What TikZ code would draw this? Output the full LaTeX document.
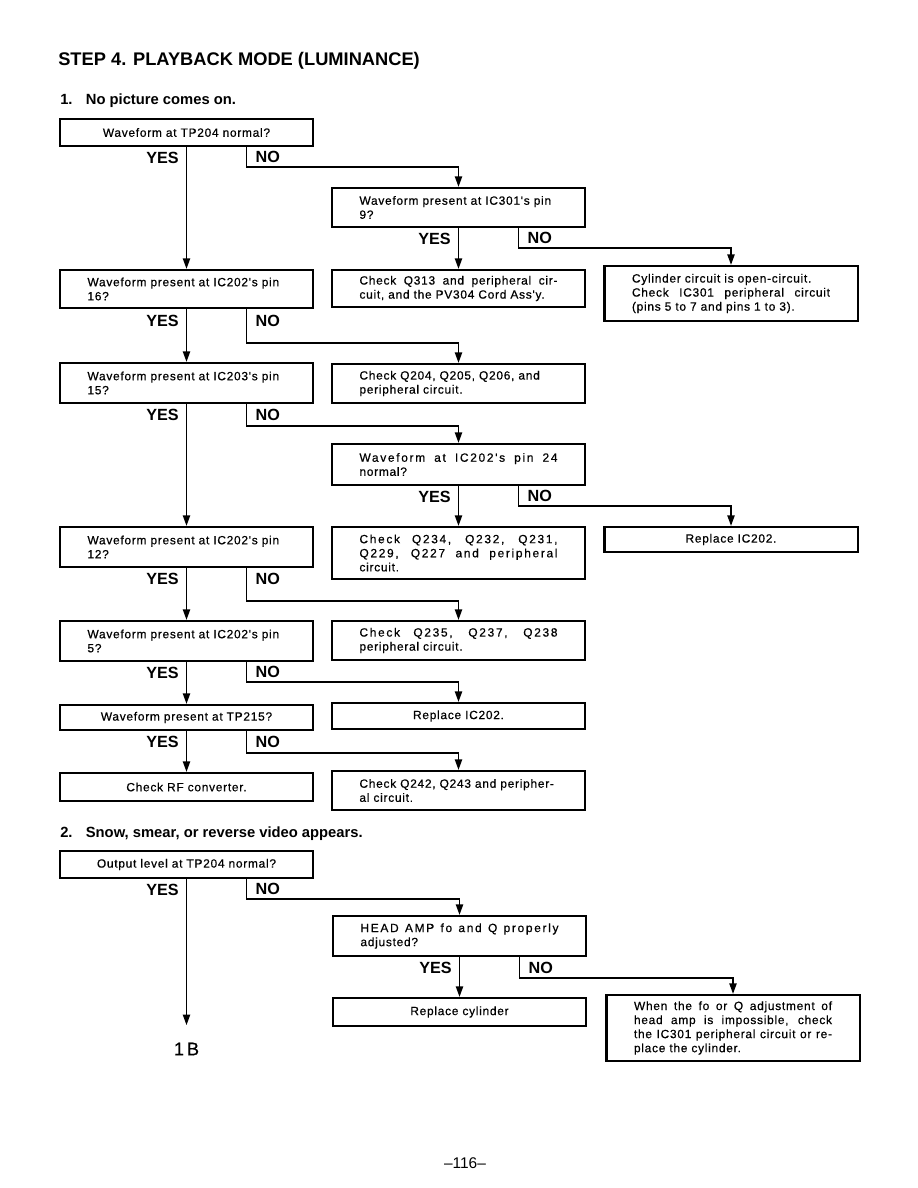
\documentclass[tikz,border=0pt]{standalone}
\usepackage{fontspec}
\setmainfont{Liberation Sans}
\newfontfamily\boxfont[LetterSpace=6,FakeBold=0.5]{Liberation Sans}
\newfontfamily\wideboxfont[LetterSpace=14,FakeBold=0.5]{Liberation Sans}
\usetikzlibrary{
    arrows.meta,
    positioning,
    calc
}
\newcommand{\spread}[1]{\makebox[\linewidth][s]{\spaceskip=0.3333em plus 1fil\relax #1}}
\newcommand{\wide}[1]{\makebox[\linewidth][s]{\wideboxfont\spaceskip=0.3333em plus 1fil\relax #1}}

\begin{document}
\begin{tikzpicture}[
    x=0.025cm, y=-0.025cm,
    every node/.style={font=\boxfont\fontsize{8.5}{10}\selectfont},
    ask/.style={rectangle, draw, line width=1.6pt, align=left,
      minimum width=6.33cm, text width=4.95cm, inner sep=0pt},
    mid/.style={ask, align=center},
    heading/.style={anchor=west, inner xsep=0pt,
      font=\rmfamily\bfseries\fontsize{10.5}{12}\selectfont},
    arrow/.style={-{Triangle[length=2.6mm,width=1.8mm]}, line width=1pt},
    yeslbl/.style={left, font=\rmfamily\bfseries\fontsize{11.5}{12}\selectfont,
      inner xsep=5pt, inner ysep=0pt},
    nolbl/.style={right, font=\rmfamily\bfseries\fontsize{11.5}{12}\selectfont,
      inner xsep=6pt, inner ysep=0pt}
]
\useasboundingbox[fill=white] (0,0) rectangle (918,1188);

\node[anchor=west, inner xsep=0pt, font=\rmfamily\bfseries\fontsize{13}{14}\selectfont] (title) at (58,61)
  {STEP 4. PLAYBACK MODE (LUMINANCE)};

% 1. No picture comes on.
\node[heading] (head1) at (60,101) {1.\hspace{0.9em}No picture comes on.};
\node[mid, minimum height=0.675cm] (tp204) at (186.5,132.5) {Waveform at TP204 normal?};
\node[ask, minimum height=0.975cm] (ic301) at (458.5,207.5) {Waveform present at IC301's pin\\9?};
\node[ask, minimum height=0.925cm] (q313) at (458.5,288.5)
  {\spread{Check Q313 and peripheral cir-}\\cuit, and the PV304 Cord Ass'y.};
\node[ask, minimum height=1.375cm] (cyl) at (731,293.5)
  {Cylinder circuit is open-circuit.\\\spread{Check IC301 peripheral circuit}\\(pins 5 to 7 and pins 1 to 3).};
\node[ask, minimum height=0.95cm] (pin16) at (186.5,289) {Waveform present at IC202's pin\\16?};
\node[ask, minimum height=1.0cm] (pin15) at (186.5,383) {Waveform present at IC203's pin\\15?};
\node[ask, minimum height=0.975cm] (q204) at (458.5,383.5) {Check Q204, Q205, Q206, and\\peripheral circuit.};
\node[ask, minimum height=1.025cm] (pin24) at (458.5,464.5) {\wide{Waveform at IC202's pin 24}\\normal?};
\node[ask, minimum height=1.3cm] (q234) at (458.5,553)
  {\wide{Check Q234, Q232, Q231,}\\\wide{Q229, Q227 and peripheral}\\circuit.};
\node[mid, minimum height=0.625cm] (ic202a) at (731,539.5) {Replace IC202.};
\node[ask, minimum height=1.0cm] (pin12) at (186.5,547) {Waveform present at IC202's pin\\12?};
\node[ask, minimum height=1.0cm] (pin5) at (186.5,641) {Waveform present at IC202's pin\\5?};
\node[ask, minimum height=0.975cm] (q235) at (458.5,640.5) {\wide{Check Q235, Q237, Q238}\\peripheral circuit.};
\node[mid, minimum height=0.625cm] (tp215) at (186.5,717.5) {Waveform present at TP215?};
\node[mid, minimum height=0.65cm] (ic202b) at (458.5,716) {Replace IC202.};
\node[mid, minimum height=0.7cm] (rfconv) at (186.5,787) {Check RF converter.};
\node[ask, minimum height=0.975cm] (q242) at (458.5,790.5) {Check Q242, Q243 and peripher-\\al circuit.};

\draw[arrow] (tp204.south) -- node[yeslbl]{YES} ++(0,22) -- (pin16.north);
\draw[arrow] ([xshift=1.5cm]tp204.south) -- node[nolbl]{NO} ++(0,20) -| (ic301.north);
\draw[arrow] (ic301.south) -- node[yeslbl]{YES} ++(0,22) -- (q313.north);
\draw[arrow] ([xshift=1.5cm]ic301.south) -- node[nolbl]{NO} ++(0,20) -| (cyl.north);
\draw[arrow] (pin16.south) -- node[yeslbl]{YES} ++(0,24) -- (pin15.north);
\draw[arrow] ([xshift=1.5cm]pin16.south) -- node[nolbl]{NO} ++(0,24) -- ++(0,10) -| (q204.north);
\draw[arrow] (pin15.south) -- node[yeslbl]{YES} ++(0,22) -- (pin12.north);
\draw[arrow] ([xshift=1.5cm]pin15.south) -- node[nolbl]{NO} ++(0,22) -| (pin24.north);
\draw[arrow] (pin24.south) -- node[yeslbl]{YES} ++(0,22) -- (q234.north);
\draw[arrow] ([xshift=1.5cm]pin24.south) -- node[nolbl]{NO} ++(0,20) -| (ic202a.north);
\draw[arrow] (pin12.south) -- node[yeslbl]{YES} ++(0,22) -- (pin5.north);
\draw[arrow] ([xshift=1.5cm]pin12.south) -- node[nolbl]{NO} ++(0,22) -- ++(0,11) -| (q235.north);
\draw[arrow] (pin5.south) -- node[yeslbl]{YES} ++(0,22) -- (tp215.north);
\draw[arrow] ([xshift=1.5cm]pin5.south) -- node[nolbl]{NO} ++(0,20) -| (ic202b.north);
\draw[arrow] (tp215.south) -- node[yeslbl]{YES} ++(0,22) -- (rfconv.north);
\draw[arrow] ([xshift=1.5cm]tp215.south) -- node[nolbl]{NO} ++(0,22) -| (q242.north);

% 2. Snow, smear, or reverse video appears.
\node[heading] (head2) at (60,834) {2.\hspace{0.9em}Snow, smear, or reverse video appears.};
\node[mid, minimum height=0.675cm] (level) at (186.5,864.5) {Output level at TP204 normal?};
\node[ask, minimum height=1.0cm] (headamp) at (459.5,936) {\wide{HEAD AMP fo and Q properly}\\adjusted?};
\node[mid, minimum height=0.7cm] (cylrep) at (459.5,1012) {Replace cylinder};
\node[ask, minimum height=1.65cm] (adjust) at (733,1028)
  {\spread{When the fo or Q adjustment of}\\\spread{head amp is impossible, check}\\\spread{the IC301 peripheral circuit or re-}\\place the cylinder.};
\node[font=\boxfont\fontsize{13}{14}\selectfont] (oneb) at (186.5,1049) {1\hspace{2pt}B};

\draw[arrow, shorten >=9pt] (level.south) -- node[yeslbl]{YES} ++(0,22) -- (oneb.north);
\draw[arrow] ([xshift=1.5cm]level.south) -- node[nolbl]{NO} ++(0,20) -| (headamp.north);
\draw[arrow] (headamp.south) -- node[yeslbl]{YES} ++(0,22) -- (cylrep.north);
\draw[arrow] ([xshift=1.5cm]headamp.south) -- node[nolbl]{NO} ++(0,21) -| (adjust.north);

\node[font=\rmfamily\fontsize{11}{12}\selectfont] (page) at (465,1163) {--116--};
\end{tikzpicture}
\end{document}
